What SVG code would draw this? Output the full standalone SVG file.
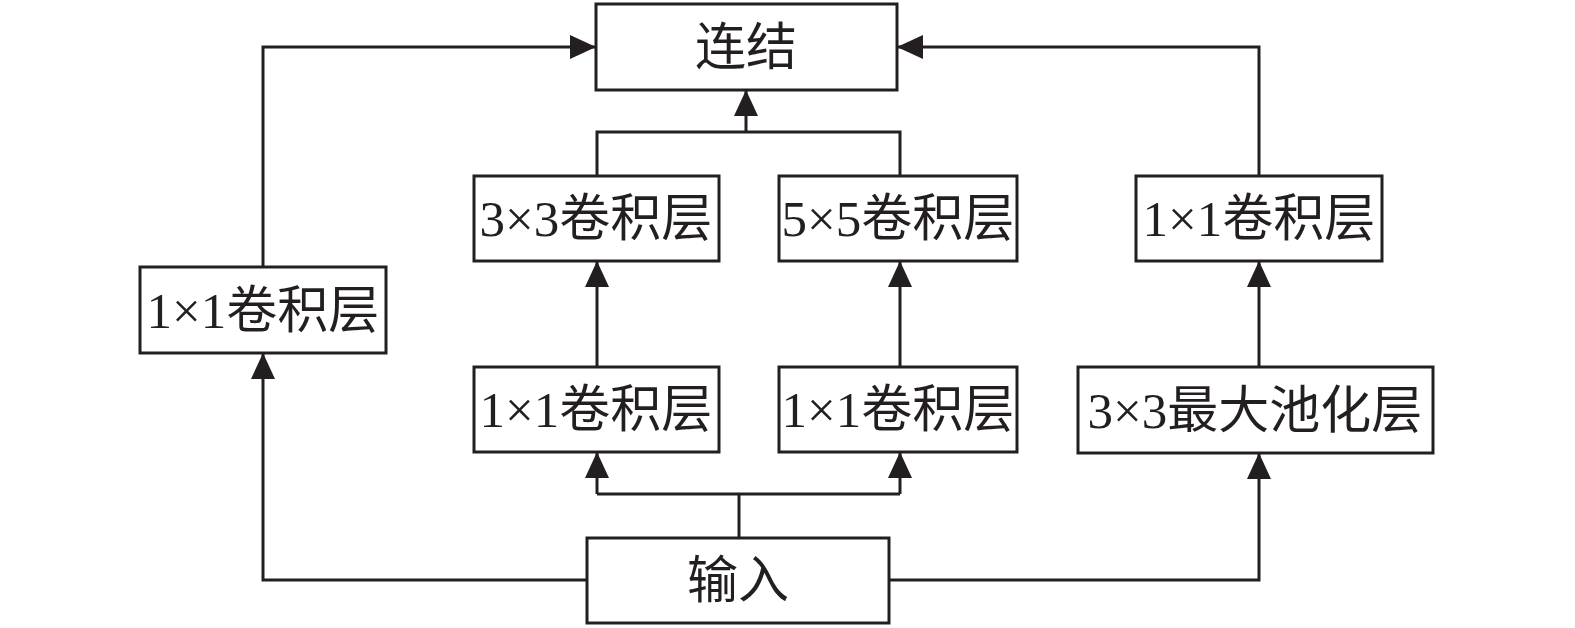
<svg xmlns="http://www.w3.org/2000/svg" width="1575" height="628" viewBox="0 0 1575 628">
<style>
.box{fill:#fff;stroke:#231f20;stroke-width:3}
.lbl{font-family:"Liberation Serif","Noto Sans CJK SC",serif;font-size:51px;fill:#231f20;text-anchor:middle}
.c{fill:none;stroke:#231f20;stroke-width:3}
</style>
<defs>
<marker id="arr" markerUnits="userSpaceOnUse" viewBox="0 0 26 24" refX="26" refY="12" markerWidth="26" markerHeight="24" orient="auto">
<path d="M0,0 L26,12 L0,24 z" fill="#231f20"/>
</marker>
</defs>
<rect width="1575" height="628" fill="#fff"/>
<g id="connectors">
<path class="c" d="M587,580 H263 V353" marker-end="url(#arr)"/>
<path class="c" d="M263,267 V47 H596" marker-end="url(#arr)"/>
<path class="c" d="M889,580 H1259 V453" marker-end="url(#arr)"/>
<path class="c" d="M1259,367 V261" marker-end="url(#arr)"/>
<path class="c" d="M1259,176 V47 H897" marker-end="url(#arr)"/>
<path class="c" d="M739,538 V494"/>
<path class="c" d="M597,494 H900"/>
<path class="c" d="M597,494 V452" marker-end="url(#arr)"/>
<path class="c" d="M900,494 V452" marker-end="url(#arr)"/>
<path class="c" d="M597,367 V261" marker-end="url(#arr)"/>
<path class="c" d="M900,367 V261" marker-end="url(#arr)"/>
<path class="c" d="M597,176 V132 H900 V176"/>
<path class="c" d="M746,132 V90" marker-end="url(#arr)"/>
</g>
<g id="concat"><rect class="box" x="596" y="4" width="301" height="86"/><text class="lbl" x="746" y="65">连结</text></g>
<g id="left-conv1x1"><rect class="box" x="140" y="267" width="246" height="86"/><text class="lbl" x="263" y="328">1×1卷积层</text></g>
<g id="conv3x3"><rect class="box" x="474" y="176" width="245" height="85"/><text class="lbl" x="596" y="236">3×3卷积层</text></g>
<g id="conv5x5"><rect class="box" x="779" y="176" width="238" height="85"/><text class="lbl" x="898" y="236">5×5卷积层</text></g>
<g id="right-conv1x1"><rect class="box" x="1136" y="176" width="246" height="85"/><text class="lbl" x="1259" y="236">1×1卷积层</text></g>
<g id="mid-conv1x1-a"><rect class="box" x="474" y="367" width="245" height="85"/><text class="lbl" x="596" y="427">1×1卷积层</text></g>
<g id="mid-conv1x1-b"><rect class="box" x="779" y="367" width="238" height="85"/><text class="lbl" x="898" y="427">1×1卷积层</text></g>
<g id="maxpool"><rect class="box" x="1078" y="367" width="355" height="86"/><text class="lbl" x="1255" y="428">3×3最大池化层</text></g>
<g id="input"><rect class="box" x="587" y="538" width="302" height="85"/><text class="lbl" x="738" y="598">输入</text></g>
</svg>
